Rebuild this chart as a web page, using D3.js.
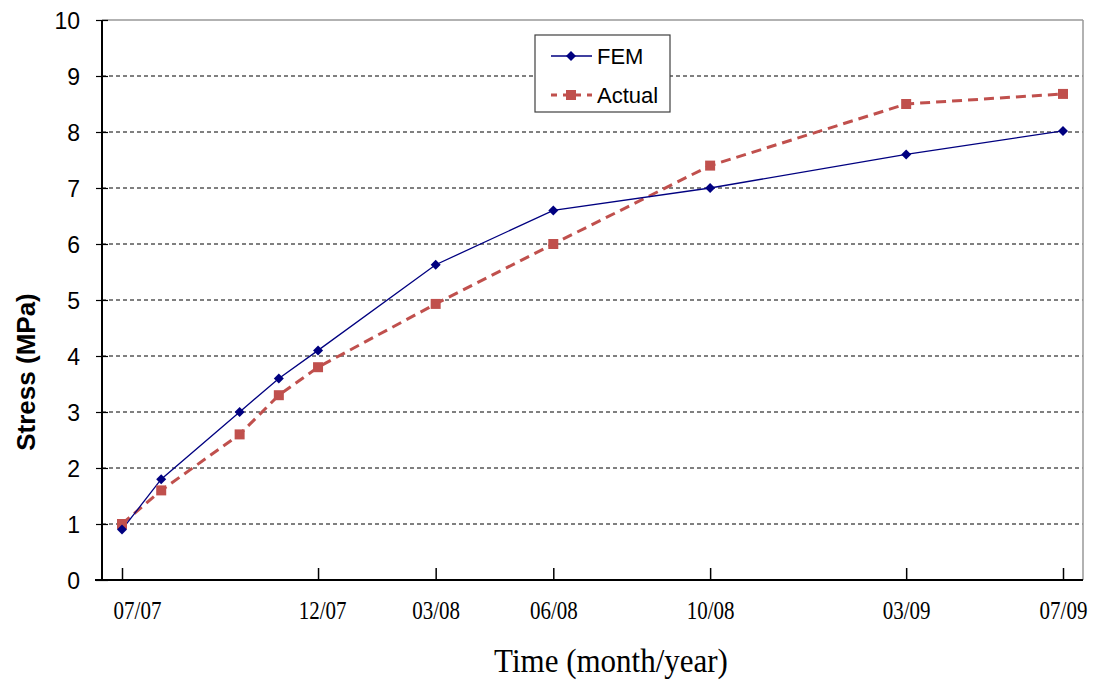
<!DOCTYPE html>
<html><head><meta charset="utf-8">
<script src="https://cdn.jsdelivr.net/npm/d3@7"></script>
<style>body{margin:0;background:#fff}svg{display:block}</style>
</head><body>
<svg id="c" width="1102" height="686"></svg>
<script>
// months since 07/2007
const months = [0, 1, 3, 4, 5, 8, 11, 15, 20, 24];
const femValues = [0.9, 1.8, 3.0, 3.6, 4.1, 5.63, 6.6, 7.0, 7.6, 8.02];
const actualValues = [1.0, 1.6, 2.6, 3.3, 3.8, 4.93, 6.0, 7.4, 8.5, 8.68];
const xTickMonths = [0, 5, 8, 11, 15, 20, 24];
const xTickLabels = ["07/07", "12/07", "03/08", "06/08", "10/08", "03/09", "07/09"];
const yTicks = [0, 1, 2, 3, 4, 5, 6, 7, 8, 9, 10];

const svg = d3.select("#c");
const L = 102, R = 1083, T = 20, B = 580;
const x = d3.scaleLinear().domain([0, 24]).range([122, 1063]);
const y = d3.scaleLinear().domain([0, 10]).range([B, T]);
const sans = "Liberation Sans, Arial, sans-serif";
const serif = "Liberation Serif, 'Times New Roman', serif";

// gridlines
svg.append("g").selectAll("line").data(yTicks.filter(d => d > 0 && d < 10)).join("line")
  .attr("x1", L).attr("x2", R).attr("y1", d => y(d)).attr("y2", d => y(d))
  .attr("stroke", "#000").attr("stroke-width", 1).attr("stroke-dasharray", "4,3");
// frame top/right
svg.append("line").attr("x1", L).attr("x2", R).attr("y1", T).attr("y2", T).attr("stroke", "#999").attr("stroke-width", 1.5);
svg.append("line").attr("x1", R).attr("x2", R).attr("y1", T).attr("y2", B).attr("stroke", "#999").attr("stroke-width", 1.5);

// y axis
const yAxis = svg.append("g").attr("transform", `translate(${L},0)`)
  .call(d3.axisLeft(y).tickValues(yTicks).tickSize(6).tickPadding(16));
yAxis.select(".domain").attr("stroke", "#000").attr("stroke-width", 2).attr("d", `M0,${T}V${B}`);
yAxis.selectAll(".tick line").attr("stroke", "#000").attr("x1", 6).attr("x2", -6).attr("stroke-width", 1.2);
yAxis.selectAll(".tick text").attr("font-family", sans).attr("font-size", 23).attr("fill", "#000").attr("x", -22).attr("dy", "0.35em");

// x axis
const xAxis = svg.append("g").attr("transform", `translate(0,${B})`)
  .call(d3.axisBottom(x).tickValues(xTickMonths).tickFormat((d, i) => xTickLabels[i]).tickSize(-12).tickPadding(22));
xAxis.select(".domain").attr("stroke", "#000").attr("stroke-width", 2).attr("d", `M${L - 7},0H${R}`);
xAxis.selectAll(".tick line").attr("stroke", "#000").attr("stroke-width", 1.5);
xAxis.selectAll(".tick text").attr("font-family", serif).attr("font-size", 21).attr("fill", "#000")
  .attr("transform", "scale(1,1.2)").attr("y", 22 / 1.2 - 1)
  .attr("dx", (d, i) => i === 0 ? 15 : (i === 1 ? 4 : 0));

// lines
const femColor = "#000080", actColor = "#C0504D";
const lineGen = vals => d3.line().x((d, i) => x(months[i])).y(d => y(d))(vals);
svg.append("path").attr("d", lineGen(actualValues)).attr("fill", "none").attr("stroke", actColor).attr("stroke-width", 3).attr("stroke-dasharray", "10,6");
svg.append("path").attr("d", lineGen(femValues)).attr("fill", "none").attr("stroke", femColor).attr("stroke-width", 1.3);

const sq = d3.symbol().type(d3.symbolSquare).size(100);
const dia = d3.symbol().type(d3.symbolSquare).size(50);
svg.append("g").selectAll("path").data(actualValues).join("path")
  .attr("d", sq).attr("transform", (d, i) => `translate(${x(months[i])},${y(d)})`).attr("fill", actColor);
svg.append("g").selectAll("path").data(femValues).join("path")
  .attr("d", dia).attr("transform", (d, i) => `translate(${x(months[i])},${y(d)}) rotate(45)`).attr("fill", femColor);

// legend
const lg = svg.append("g");
lg.append("rect").attr("x", 535).attr("y", 35).attr("width", 135).attr("height", 77).attr("fill", "#fff").attr("stroke", "#404040").attr("stroke-width", 1.2);
lg.append("line").attr("x1", 551).attr("x2", 592).attr("y1", 56).attr("y2", 56).attr("stroke", femColor).attr("stroke-width", 1.3);
lg.append("path").attr("d", dia).attr("transform", "translate(571,56) rotate(45)").attr("fill", femColor);
lg.append("text").attr("x", 597).attr("y", 64).text("FEM").attr("font-family", sans).attr("font-size", 22);
lg.append("line").attr("x1", 551).attr("x2", 592).attr("y1", 95).attr("y2", 95).attr("stroke", actColor).attr("stroke-width", 3).attr("stroke-dasharray", "6,6");
lg.append("path").attr("d", sq).attr("transform", "translate(571,95)").attr("fill", actColor);
lg.append("text").attr("x", 597).attr("y", 103).text("Actual").attr("font-family", sans).attr("font-size", 22);

// titles
svg.append("text").attr("transform", "translate(35,372) rotate(-90)").attr("text-anchor", "middle")
  .attr("font-family", sans).attr("font-weight", "bold").attr("font-size", 26).text("Stress (MPa)");
svg.append("text").attr("transform", "translate(611,672) scale(1,1.12)").attr("text-anchor", "middle")
  .attr("font-family", serif).attr("font-size", 31).text("Time (month/year)");
</script>
</body></html>
